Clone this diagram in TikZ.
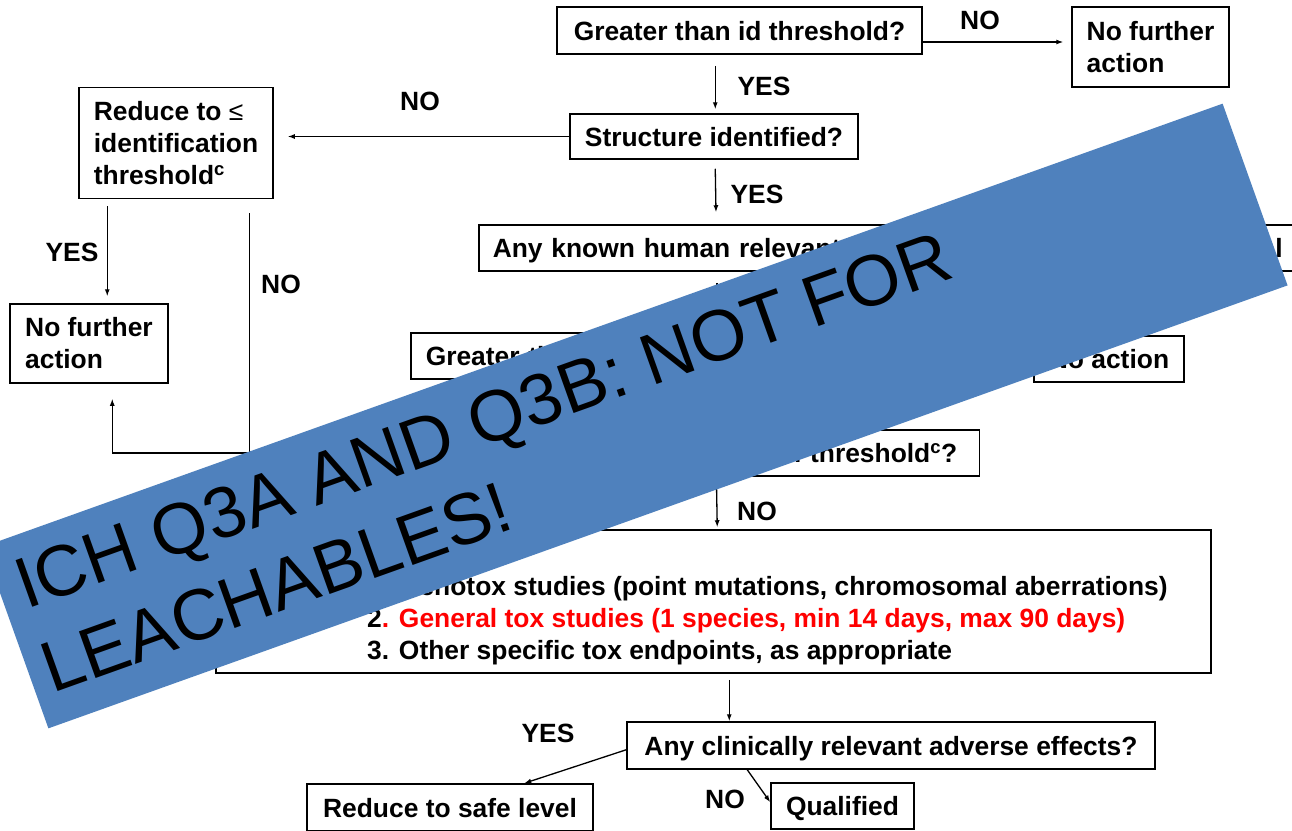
\documentclass[tikz,border=0pt]{standalone}
\usepackage{fontspec}
\setmainfont{Liberation Sans}
\usetikzlibrary{arrows.meta,calc}
\definecolor{bannerblue}{HTML}{4F81BD}
\definecolor{tred}{RGB}{255,0,0}
\begin{document}
\begin{tikzpicture}[x=1pt,y=-1pt,
  fl/.style={font=\bfseries\fontsize{26.4}{32}\selectfont},
  box/.style={fl, draw=black, line width=1.5pt, inner sep=0pt, text height=19pt, text depth=0pt},
  mbox/.style={fl, draw=black, line width=1.5pt, inner sep=0pt, align=left},
  lbl/.style={fl, inner sep=0pt},
  arr/.style={line width=1.3pt, -{Latex[length=7pt,width=5pt]}},
  conn/.style={line width=1.3pt},
  bantext/.style={font=\fontsize{72}{86}\selectfont, inner sep=0pt, anchor=base west, rotate=19.67}]
\useasboundingbox (0,0) rectangle (1292,830);
\clip (0,0) rectangle (1292,830);
\fill[white] (0,0) rectangle (1292,830);

% boxes
\node[box, minimum width=365pt, minimum height=47pt] (B1) at (739.5,30.5) {Greater than id threshold?};
\node[mbox, minimum width=157pt, minimum height=80pt] (B2) at (1150.5,47) {No further\\action};
\node[box, minimum width=288pt, minimum height=45pt] (B3) at (714,136.5) {Structure identified?};
\node[mbox, minimum width=194pt, minimum height=111pt] (B4) at (176,143) {Reduce to {\mdseries ≤}\\identification\\threshold\textsuperscript{c}};
\node[mbox, minimum width=158pt, minimum height=79pt] (B5) at (89,343.5) {No further\\action};
\node[box, text width=790pt, inner xsep=14pt, align=left, minimum height=46pt, anchor=west] (B6) at (478,248) {Any known human relevant risks?\hfill l};
\node[box, text width=480pt, inner xsep=15pt, align=left, minimum height=46pt, anchor=west] (B7) at (410,356) {Greater than qualification threshold?};
\node[box, minimum width=150pt, minimum height=46pt] (B8) at (1109,359) {No action};
\node[box, text width=496pt, inner xsep=22pt, align=right, minimum height=46pt, anchor=east] (B9) at (980,453) {Reduce to {\mdseries ≤} qualification threshold\textsuperscript{c}?};
\node[draw=black, line width=1.5pt, minimum width=995pt, minimum height=143pt, inner sep=0pt] (B10) at (713.5,601.5) {};
\node[lbl, anchor=base west] (T1) at (367,595) {1. Genotox studies (point mutations, chromosomal aberrations)};
\node[lbl, anchor=base west] (T2) at (367,627) {2\textcolor{tred}{. General tox studies (1 species, min 14 days, max 90 days)}};
\node[lbl, anchor=base west] (T3) at (367,659) {3. Other specific tox endpoints, as appropriate};
\node[box, minimum width=528pt, minimum height=47pt] (B11) at (891,745.5) {Any clinically relevant adverse effects?};
\node[box, minimum width=286pt, minimum height=47pt] (B12) at (450,807.5) {Reduce to safe level};
\node[box, minimum width=143pt, minimum height=46pt] (B13) at (842.5,806) {Qualified};

% connectors
\draw[arr] (B1.east |- 0,42) -- ($(B2.west |- 0,42)+(-8,0)$);
\draw[arr] ($(B1.south west)+(159,11)$) -- ($(B3.north west)+(146,-4)$);
\draw[arr] (B3.west) -- ($(B4.east |- B3.west)+(14,0)$);
\draw[arr] ($(B3.south west)+(146,9)$) -- ($(B6.north west)+(238,-12)$);
\draw[arr] ($(B6.south west)+(239,11)$) -- ($(B7.north west)+(307,0)$);
\draw[arr] ($(B4.south west)+(29,7)$) -- ($(B5.north west)+(98,-7)$);
\draw[arr] ($(B4.south west)+(171,14)$) -- ($(B10.north west)+(34,0)$);
\draw[arr] (B9.west) -| ($(B5.south west)+(103,15)$);
\draw[arr] ($(B9.south west)+(278,8)$) -- ($(B10.north west)+(502,-2)$);
\draw[arr] ($(B10.south west)+(514,6)$) -- ($(B11.north west)+(103,0)$);
\draw[arr] ($(B11.south west)+(0,-20)$) -- ($(B12.north west)+(218,0)$);
\draw[arr] ($(B11.south west)+(121,0)$) -- ($(B13.north west)+(0,20)$);

% labels
\node[lbl] (L1) at (980,20) {NO};
\node[lbl] (L2) at (764,86) {YES};
\node[lbl] (L3) at (420,101) {NO};
\node[lbl] (L4) at (757,194) {YES};
\node[lbl] (L5) at (72,252) {YES};
\node[lbl] (L6) at (281,284) {NO};
\node[lbl] (L7) at (757,511) {NO};
\node[lbl] (L8) at (548,733.5) {YES};
\node[lbl] (L9) at (725,799) {NO};

% banner
\node[fill=bannerblue, minimum width=1316pt, minimum height=193pt, inner sep=0pt, rotate=19.67] (banner) at (635.5,416) {};
\node[bantext] (BT1) at (25.9,609.9) {ICH Q3A AND Q3B: NOT FOR};
\node[bantext] (BT2) at (52.7,693.8) {LEACHABLES!};
\end{tikzpicture}
\end{document}
